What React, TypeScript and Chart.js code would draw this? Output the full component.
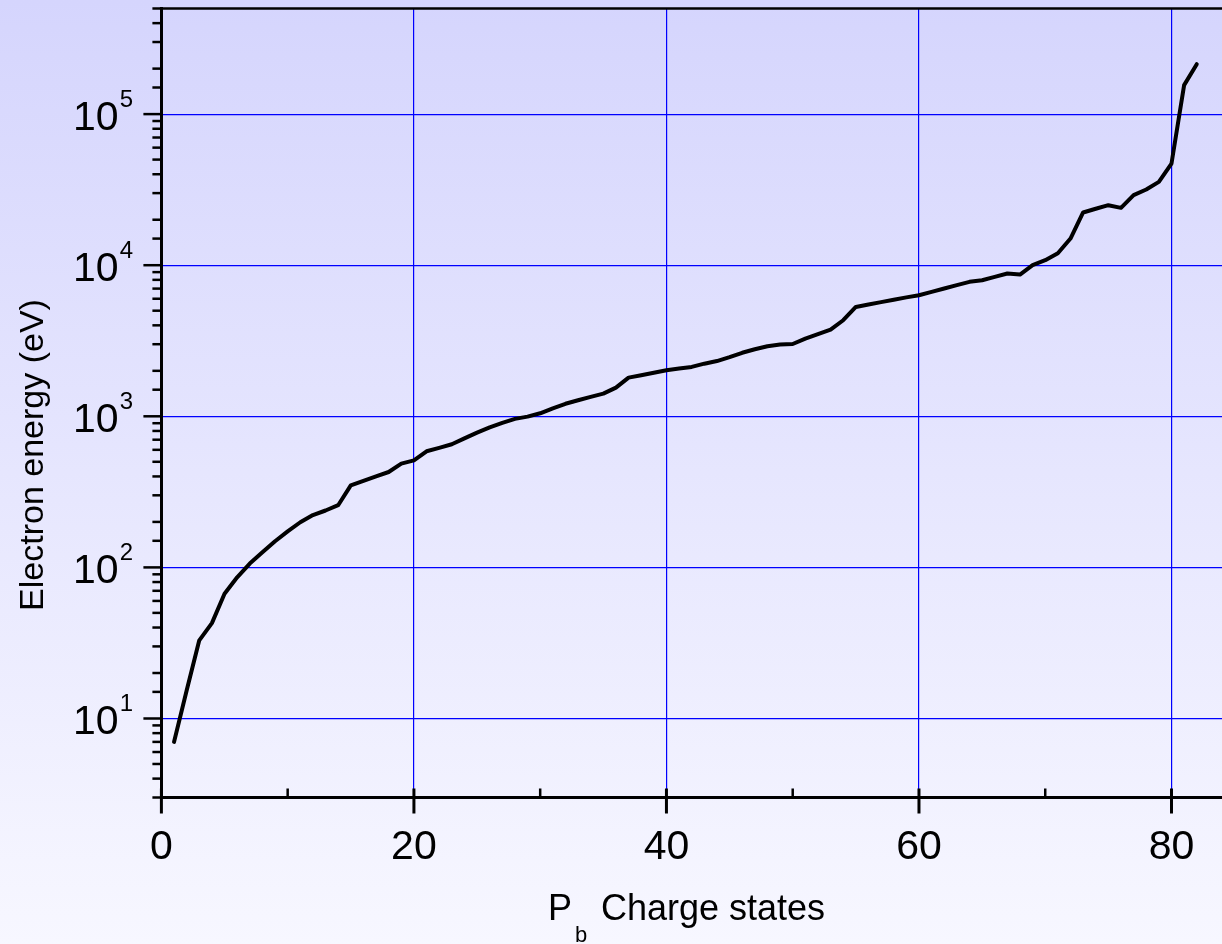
import React, { useEffect, useRef } from 'react';
import { Chart, registerables } from 'chart.js';

Chart.register(...registerables);

const chargeStates: number[] = [
  1, 2, 3, 4, 5, 6, 7, 8, 9, 10, 11, 12, 13, 14, 15, 16, 17, 18, 19, 20,
  21, 22, 23, 24, 25, 26, 27, 28, 29, 30, 31, 32, 33, 34, 35, 36, 37, 38, 39, 40,
  41, 42, 43, 44, 45, 46, 47, 48, 49, 50, 51, 52, 53, 54, 55, 56, 57, 58, 59, 60,
  61, 62, 63, 64, 65, 66, 67, 68, 69, 70, 71, 72, 73, 74, 75, 76, 77, 78, 79, 80,
  81, 82,
];

const electronEnergy: number[] = [
  7.0, 15.3, 32.9, 42.8, 67, 86, 106, 126, 149, 173,
  199, 222, 238, 258, 349, 374, 401, 428, 486, 511,
  587, 618, 653, 715, 780, 845, 905, 962, 995, 1047,
  1130, 1210, 1277, 1345, 1413, 1549, 1803, 1870, 1944, 2018,
  2070, 2123, 2230, 2320, 2461, 2633, 2778, 2909, 2990, 3010,
  3266, 3500, 3748, 4323, 5296, 5496, 5700, 5915, 6125, 6324,
  6655, 7013, 7380, 7762, 7946, 8370, 8810, 8670, 10000, 10790,
  12000, 15020, 22340, 23650, 24960, 23970, 29100, 31700, 35600, 47100,
  155600, 214000,
];

const xTickLabels: string[] = ['0', '20', '40', '60', '80'];
const yTickExponents: string[] = ['1', '2', '3', '4', '5'];
const xTitleMain = 'P';
const xTitleSub = 'b';
const xTitleRest = 'Charge states';
const yTitle = 'Electron energy (eV)';

const FONT = '"Liberation Sans", Arial, Helvetica, sans-serif';

const isPow10 = (v: number) => {
  const l = Math.log10(v);
  return Math.abs(l - Math.round(l)) < 1e-9;
};

const decorPlugin = {
  id: 'decor',
  afterDraw(chart: any) {
    const { ctx, chartArea } = chart;
    const xs = chart.scales.x;
    const ys = chart.scales.y;
    const left = chartArea.left;
    const bottom = chartArea.bottom;
    ctx.save();
    ctx.strokeStyle = '#000';
    ctx.fillStyle = '#000';

    // top frame line
    ctx.lineWidth = 2.5;
    ctx.beginPath();
    ctx.moveTo(left - 1.5, chartArea.top);
    ctx.lineTo(chartArea.right, chartArea.top);
    ctx.stroke();

    // y ticks
    ctx.lineWidth = 2.5;
    ys.ticks.forEach((t: any) => {
      const py = ys.getPixelForValue(t.value);
      const len = isPow10(t.value) ? 18 : 9;
      ctx.beginPath();
      ctx.moveTo(left - len, py);
      ctx.lineTo(left, py);
      ctx.stroke();
    });

    // x ticks
    xs.ticks.forEach((t: any) => {
      const v = t.value;
      const px = xs.getPixelForValue(v);
      if (v % 20 === 0) {
        ctx.lineWidth = 3;
        ctx.beginPath();
        ctx.moveTo(px, bottom - 9);
        ctx.lineTo(px, bottom + 16);
        ctx.stroke();
      } else if (v % 10 === 0) {
        ctx.lineWidth = 2.5;
        ctx.beginPath();
        ctx.moveTo(px, bottom - 9);
        ctx.lineTo(px, bottom);
        ctx.stroke();
      }
    });

    // y tick labels: 10^n
    yTickExponents.forEach((e) => {
      const py = ys.getPixelForValue(Math.pow(10, Number(e)));
      ctx.font = '24px ' + FONT;
      const supW = ctx.measureText(e).width;
      ctx.textAlign = 'right';
      ctx.textBaseline = 'alphabetic';
      const right = 133;
      ctx.fillText(e, right, py - 7);
      ctx.font = '41px ' + FONT;
      ctx.fillText('10', right - supW - 1, py + 16);
    });

    // x tick labels
    ctx.font = '41px ' + FONT;
    ctx.textAlign = 'center';
    ctx.textBaseline = 'alphabetic';
    xTickLabels.forEach((lab) => {
      const px = xs.getPixelForValue(Number(lab));
      ctx.fillText(lab, px, 859);
    });

    // x title
    ctx.textAlign = 'left';
    ctx.font = '36px ' + FONT;
    ctx.fillText(xTitleMain, 548, 920);
    ctx.fillText(xTitleRest, 601, 920);
    ctx.font = '22px ' + FONT;
    ctx.fillText(xTitleSub, 575, 942);

    // y title
    ctx.save();
    ctx.translate(43, 455);
    ctx.rotate(-Math.PI / 2);
    ctx.font = '34px ' + FONT;
    ctx.textAlign = 'center';
    ctx.textBaseline = 'alphabetic';
    ctx.fillText(yTitle, 0, 0);
    ctx.restore();

    ctx.restore();
  },
};

export default function App() {
  const canvasRef = useRef<HTMLCanvasElement | null>(null);

  useEffect(() => {
    const canvas = canvasRef.current;
    if (!canvas) return;
    const chart = new Chart(canvas, {
      type: 'line',
      data: {
        datasets: [
          {
            data: chargeStates.map((c, i) => ({ x: c, y: electronEnergy[i] })),
            borderColor: '#000000',
            borderWidth: 4,
            pointRadius: 0,
            tension: 0,
            fill: false,
            borderJoinStyle: 'round',
            borderCapStyle: 'round',
          },
        ],
      },
      options: {
        responsive: false,
        maintainAspectRatio: false,
        animation: false,
        devicePixelRatio: 1,
        layout: { padding: { left: 161.4, top: 8.5, right: 0, bottom: 146.5 } },
        plugins: {
          legend: { display: false },
          tooltip: { enabled: false },
          title: { display: false },
        },
        scales: {
          x: {
            type: 'linear',
            min: 0,
            max: 84,
            afterBuildTicks: (s: any) => {
              s.ticks = [0, 10, 20, 30, 40, 50, 60, 70, 80].map((v) => ({ value: v }));
            },
            afterFit: (s: any) => {
              s.height = 0;
            },
            ticks: { display: false },
            grid: {
              drawTicks: false,
              tickLength: 0,
              lineWidth: 1.2,
              color: (c: any) => {
                const v = c.tick ? c.tick.value : 0;
                return v !== 0 && v % 20 === 0 ? '#0000ff' : 'rgba(0,0,0,0)';
              },
            },
            border: { display: true, color: '#000000', width: 3 },
          },
          y: {
            type: 'logarithmic',
            min: 3,
            max: 500000,
            afterFit: (s: any) => {
              s.width = 0;
            },
            ticks: { display: false },
            grid: {
              drawTicks: false,
              tickLength: 0,
              lineWidth: 1.2,
              color: (c: any) => {
                const v = c.tick ? c.tick.value : 0;
                return v > 3 && v < 500000 && isPow10(v) ? '#0000ff' : 'rgba(0,0,0,0)';
              },
            },
            border: { display: true, color: '#000000', width: 3 },
          },
        },
      },
      plugins: [decorPlugin],
    } as any);
    return () => {
      chart.destroy();
    };
  }, []);

  return (
    <div
      style={{
        position: 'fixed',
        left: 0,
        top: 0,
        width: 1222,
        height: 944,
        overflow: 'hidden',
        background: 'linear-gradient(to bottom, #d5d5fd 0%, #f7f7ff 100%)',
      }}
    >
      <canvas ref={canvasRef} width={1222} height={944} style={{ width: 1222, height: 944, display: 'block' }} />
    </div>
  );
}
